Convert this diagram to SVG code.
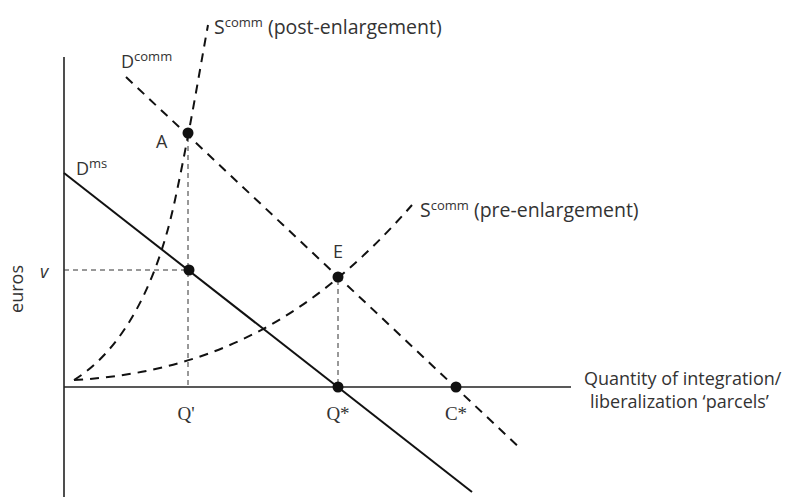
<svg xmlns="http://www.w3.org/2000/svg" width="800" height="503" viewBox="0 0 800 503">
<style>
text{font-family:"Open Sans","Liberation Sans",sans-serif;font-size:18px;fill:#333}
.big{font-size:19.5px}
.sup{font-size:13px}
.serif{font-family:"Liberation Serif","Times New Roman",serif;font-size:19px}
.axis{stroke:#222;stroke-width:1.6;fill:none}
.solid{stroke:#111;stroke-width:2;fill:none}
.dash{stroke:#111;stroke-width:2;fill:none;stroke-dasharray:9 7}
.guide{stroke:#333;stroke-width:1;fill:none;stroke-dasharray:5 4}
.dot{fill:#111}
</style>
<rect width="800" height="503" fill="#fff"/>
<g id="connectors">
<path class="axis" d="M64 57 V497"/>
<path class="axis" d="M64 387 H571"/>
<path class="guide" d="M64 270 H189"/>
<path class="guide" d="M188 137 V387"/>
<path class="guide" d="M338 280 V387"/>
<path id="Dms" class="solid" d="M64 173 L472 492"/>
<path id="Dcomm" class="dash" d="M126 77 L522 450"/>
<path id="Spost" class="dash" d="M74 380 C130 345,160 270,175 200 S198 80,208 25"/>
<path id="Spre" class="dash" d="M74 380 C220 372,320 310,412 205"/>
</g>
<g id="A"><circle class="dot" cx="188" cy="133" r="5.5"/><text x="156" y="148">A</text></g>
<g id="V"><circle class="dot" cx="189" cy="270" r="5.5"/></g>
<g id="E"><circle class="dot" cx="338" cy="277" r="5.5"/><text x="333" y="258">E</text></g>
<g id="Qstar"><circle class="dot" cx="338" cy="387" r="5.5"/><text class="serif" x="338" y="420" text-anchor="middle">Q*</text></g>
<g id="Cstar"><circle class="dot" cx="456" cy="387" r="5.5"/><text class="serif" x="456" y="420" text-anchor="middle">C*</text></g>
<g id="Qprime"><text class="serif" x="186" y="420" text-anchor="middle">Q'</text></g>
<g id="labels">
<text class="big" x="214" y="34">S<tspan class="sup" dy="-7">comm</tspan><tspan dy="7"> (post-enlargement)</tspan></text>
<text x="121" y="68">D<tspan class="sup" dy="-7">comm</tspan></text>
<text x="76" y="175">D<tspan class="sup" dy="-7">ms</tspan></text>
<text class="big" x="420" y="217">S<tspan class="sup" dy="-7">comm</tspan><tspan dy="7"> (pre-enlargement)</tspan></text>
<text x="40" y="278" font-style="italic">v</text>
<text transform="translate(23 289) rotate(-90)" text-anchor="middle">euros</text>
<text x="584" y="385">Quantity of integration/</text>
<text x="590" y="408">liberalization ‘parcels’</text>
</g>
</svg>
